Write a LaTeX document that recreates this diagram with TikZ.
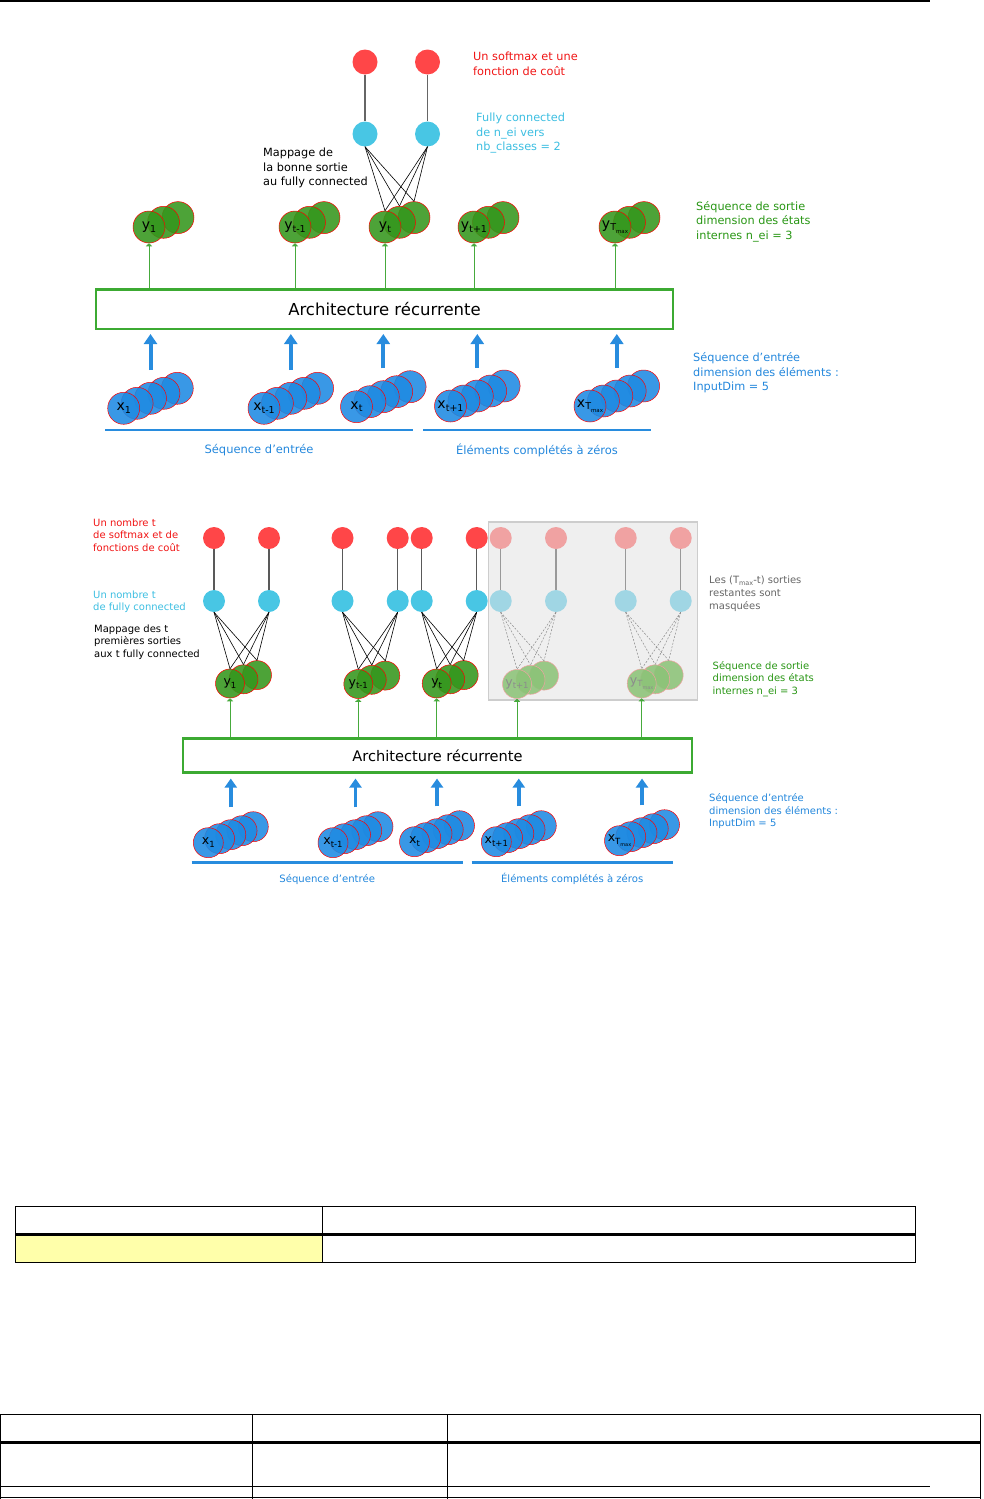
\documentclass[tikz,border=0pt]{standalone}
\usepackage{fontspec}
\setmainfont{DejaVu Sans}
\usetikzlibrary{arrows.meta}

\definecolor{redC}{RGB}{255,70,72}
\definecolor{cyanC}{RGB}{72,198,228}
\definecolor{redF}{RGB}{240,162,162}
\definecolor{cyanF}{RGB}{160,214,228}
\definecolor{greenFill}{RGB}{52,150,28}
\definecolor{greenFade}{RGB}{140,195,120}
\definecolor{blueFill}{RGB}{30,138,226}
\definecolor{greenBox}{RGB}{60,170,50}
\definecolor{greenArr}{RGB}{70,170,60}
\definecolor{blueArr}{RGB}{40,140,222}
\definecolor{greenTxt}{RGB}{40,150,20}
\definecolor{blueTxt}{RGB}{35,135,220}
\definecolor{cyanTxt}{RGB}{60,190,225}
\definecolor{redTxt}{RGB}{240,20,20}
\definecolor{grayBox}{RGB}{239,239,239}
\definecolor{grayEdge}{RGB}{205,205,205}
\definecolor{yellowCell}{RGB}{255,255,170}

\newcommand{\lsub}[2][9]{\raisebox{-0.35ex}{\fontsize{#1}{#1}\selectfont #2}}
\newcommand{\TmaxA}{\lsub[9.5]{T\raisebox{-0.5ex}{\fontsize{5.5}{5.5}\selectfont max}}}
\newcommand{\TmaxB}{\lsub[8.5]{T\raisebox{-0.5ex}{\fontsize{5}{5}\selectfont max}}}
\newcommand{\apos}{\char39\relax}
\newcommand{\cstack}[8]{%
  \foreach \i in {#8,...,1}{\node[#5] (#1-\i) at ({#2+\i*#6},{#3-\i*#7}) {};}
  \node[#5, alias=#1-0] (#1) at (#2,#3) {#4};}

\begin{document}
\begin{tikzpicture}[x=1pt,y=-1pt,
 redc/.style={circle, fill=redC, minimum size=25pt, inner sep=0pt},
 cyanc/.style={circle, fill=cyanC, minimum size=25pt, inner sep=0pt},
 redcs/.style={circle, fill=redC, minimum size=22pt, inner sep=0pt},
 cyancs/.style={circle, fill=cyanC, minimum size=22pt, inner sep=0pt},
 redcf/.style={redcs, fill=redF},
 cyancf/.style={cyancs, fill=cyanF},
 gtop/.style={circle, draw=red, line width=0.5pt, fill=greenFill, fill opacity=0.88, text opacity=1, minimum size=32pt, inner sep=0pt, font=\fontsize{14}{14}\selectfont},
 btop/.style={gtop, fill=blueFill},
 gbot/.style={gtop, minimum size=29pt, font=\fontsize{12.5}{12.5}\selectfont},
 gfade/.style={gbot, fill=greenFade, draw=redF, text=black!45},
 bbot/.style={gbot, fill=blueFill, minimum size=30pt},
 vline/.style={draw=black!60, line width=1.8pt},
 vlineb/.style={draw=black!65, line width=1.2pt},
 vlinef/.style={draw=black!40, line width=1.2pt},
 fan/.style={draw=black, line width=0.6pt},
 fanf/.style={draw=black!45, line width=0.5pt, dash pattern=on 2pt off 1.5pt},
 archbox/.style={draw=greenBox, line width=2.5pt, inner sep=0pt},
 garrow/.style={draw=greenArr, line width=0.8pt, -{Triangle[length=3pt,width=6pt]}},
 barrow/.style={draw=blueArr, line width=4pt, -{Triangle[length=10pt,width=13pt]}},
 barrowb/.style={draw=blueArr, line width=3.5pt, -{Triangle[length=9pt,width=12pt]}},
 uline/.style={draw=blueArr, line width=2.5pt},
 ulabel/.style={text=blueTxt, yshift=-20pt, font=\fontsize{11.5}{11.5}\selectfont},
 ulabelb/.style={text=blueTxt, yshift=-16.5pt, font=\fontsize{10.1}{10.1}\selectfont},
 lbl/.style={align=left, anchor=north west, inner sep=0pt, font=\fontsize{11.3}{14.5}\selectfont},
 lblb/.style={align=left, anchor=north west, inner sep=0pt, font=\fontsize{10}{12.6}\selectfont},
 panel/.style={fill=grayBox, draw=grayEdge, line width=1.5pt, inner sep=0pt}
]
\useasboundingbox (0,0) rectangle (983,1499);

% page rules
\draw[line width=1.2pt] (0,1) -- (930,1);

% ================= TOP DIAGRAM =================
\node[redc] (r1) at (365,62) {};
\node[redc] (r2) at (427.5,62) {};
\node[cyanc] (c1) at (365,134) {};
\node[cyanc] (c2) at (427.5,134) {};
\draw[vline] (r1) -- (c1);
\draw[vline] (r2) -- (c2);

\cstack{y1}{149}{227}{y\lsub[9.5]{1}}{gtop}{14.5}{4.7}{2}
\cstack{ytm1}{295}{227}{y\lsub[9.5]{t-1}}{gtop}{14.5}{4.7}{2}
\cstack{yt}{385}{227}{y\lsub[9.5]{t}}{gtop}{14.5}{4.7}{2}
\cstack{ytp1}{474}{227}{y\lsub[9.5]{t+1}}{gtop}{14.5}{4.7}{2}
\cstack{yT}{615}{227}{y\TmaxA}{gtop}{14.5}{4.7}{2}

\foreach \c in {c1,c2}{\foreach \k in {0,1,2}{\draw[fan] (\c.south) -- (yt-\k.north);}}

\node[archbox, minimum width=577pt, minimum height=39.5pt, font=\fontsize{16.5}{16.5}\selectfont] (arch1) at (384.5,309) {Architecture récurrente};

\foreach \n in {y1,ytm1,yt,ytp1,yT}{\draw[garrow] (arch1.north -| \n) -- (\n.south);}

\cstack{x1}{123.7}{408.3}{x\lsub[9.5]{1}}{btop}{13.4}{5}{4}
\cstack{xtm1}{264}{408.3}{x\lsub[9.5]{t-1}}{btop}{13.4}{5}{4}
\cstack{xt}{356.5}{406.7}{x\lsub[9.5]{t}}{btop}{13.4}{5}{4}
\cstack{xtp1}{450.5}{406}{x\lsub[9.5]{t+1}}{btop}{13.4}{5}{4}
\cstack{xT}{590}{406}{x\TmaxA}{btop}{13.4}{5}{4}

\foreach \n in {x1,xtm1,xt,xtp1,xT}{\draw[barrow, shorten >=4pt] ([yshift=12pt]\n-2.north) -- (arch1.south -| \n-2);}

\coordinate (u1a) at (105,430); \coordinate (u1b) at (413,430);
\coordinate (u2a) at (423,430); \coordinate (u2b) at (651,430);
\draw[uline] (u1a) -- node[ulabel] {Séquence d\apos entrée} (u1b);
\draw[uline] (u2a) -- node[ulabel] {Éléments complétés à zéros} (u2b);

\node[lbl, text=redTxt] (t1) at (473,52) {Un softmax et une\\fonction de coût};
\node[lbl, text=cyanTxt] (t2) at (476,113) {Fully connected\\de n\_ei vers\\nb\_classes = 2};
\node[lbl] (t3) at (263,148) {Mappage de\\la bonne sortie\\au fully connected};
\node[lbl, text=greenTxt] (t4) at (696,201) {Séquence de sortie\\dimension des états\\internes n\_ei = 3};
\node[lbl, text=blueTxt] (t5) at (693,352.5) {Séquence d\apos entrée\\dimension des éléments :\\InputDim = 5};

% ================= BOTTOM DIAGRAM =================
\node[panel, minimum width=209pt, minimum height=178pt] (mask) at (592.8,610.9) {};

\node[redcs] (rb1) at (214,538) {};
\node[redcs] (rb2) at (269,538) {};
\node[redcs] (rb3) at (342.5,538) {};
\node[redcs] (rb4) at (397.7,538) {};
\node[redcs] (rb5) at (421.7,538) {};
\node[redcs] (rb6) at (476.7,538) {};
\node[redcf] (rf1) at (500.7,538) {};
\node[redcf] (rf2) at (556,538) {};
\node[redcf] (rf3) at (625.7,538) {};
\node[redcf] (rf4) at (680.7,538) {};

\node[cyancs] (cb1) at (214,601) {};
\node[cyancs] (cb2) at (269,601) {};
\node[cyancs] (cb3) at (342.5,601) {};
\node[cyancs] (cb4) at (397.7,601) {};
\node[cyancs] (cb5) at (421.7,601) {};
\node[cyancs] (cb6) at (476.7,601) {};
\node[cyancf] (cf1) at (500.7,601) {};
\node[cyancf] (cf2) at (556,601) {};
\node[cyancf] (cf3) at (625.7,601) {};
\node[cyancf] (cf4) at (680.7,601) {};

\foreach \k in {1,...,6}{\draw[vlineb] (rb\k) -- (cb\k);}
\foreach \k in {1,...,4}{\draw[vlinef] (rf\k) -- (cf\k);}

\cstack{yb1}{230}{683.5}{y\lsub[8.5]{1}}{gbot}{13.5}{4.2}{2}
\cstack{ybtm1}{358.3}{684}{y\lsub[8.5]{t-1}}{gbot}{13.5}{4.2}{2}
\cstack{ybt}{436.7}{683.5}{y\lsub[8.5]{t}}{gbot}{13.5}{4.2}{2}
\cstack{ybtp1}{517}{684}{y\lsub[8.5]{t+1}}{gfade}{13.5}{4.2}{2}
\cstack{ybT}{641.7}{683.5}{y\TmaxB}{gfade}{13.5}{4.2}{2}

\foreach \c/\s in {cb1/yb1, cb2/yb1, cb3/ybtm1, cb4/ybtm1, cb5/ybt, cb6/ybt}{\foreach \k in {0,1,2}{\draw[fan] (\c.south) -- (\s-\k.north);}}
\foreach \c/\s in {cf1/ybtp1, cf2/ybtp1, cf3/ybT, cf4/ybT}{\foreach \k in {0,1,2}{\draw[fanf] (\c.south) -- (\s-\k.north);}}

\node[archbox, minimum width=509pt, minimum height=34pt, font=\fontsize{14.6}{14.6}\selectfont] (arch2) at (437.5,755.3) {Architecture récurrente};

\foreach \n in {yb1,ybtm1,ybt,ybtp1,ybT}{\draw[garrow] (arch2.north -| \n) -- (\n.south);}

\cstack{xb1}{208.3}{842.7}{x\lsub[8.5]{1}}{bbot}{11.25}{4}{4}
\cstack{xbtm1}{333}{842.7}{x\lsub[8.5]{t-1}}{bbot}{11.25}{4}{4}
\cstack{xbt}{414.5}{841.7}{x\lsub[8.5]{t}}{bbot}{11.25}{4}{4}
\cstack{xbtp1}{496.3}{841.7}{x\lsub[8.5]{t+1}}{bbot}{11.25}{4}{4}
\cstack{xbT}{619.5}{840.7}{x\TmaxB}{bbot}{11.25}{4}{4}

\foreach \n in {xb1,xbtm1,xbt,xbtp1,xbT}{\draw[barrowb, shorten >=5pt] ([yshift=12pt]\n-2.north) -- (arch2.south -| \n-2);}

\coordinate (v1a) at (191.7,862.7); \coordinate (v1b) at (462.7,862.7);
\coordinate (v2a) at (471.7,862.7); \coordinate (v2b) at (672.7,862.7);
\draw[uline] (v1a) -- node[ulabelb] {Séquence d\apos entrée} (v1b);
\draw[uline] (v2a) -- node[ulabelb] {Éléments complétés à zéros} (v2b);

\node[lblb, text=redTxt] (s1) at (93,518.5) {Un nombre t\\de softmax et de\\fonctions de coût};
\node[lblb, text=cyanTxt] (s2) at (93,590.2) {Un nombre t\\de fully connected};
\node[lblb] (s3) at (94,624.5) {Mappage des t\\premières sorties\\aux t fully connected};
\node[lblb, text=black!60] (s4) at (709,576) {Les (T\lsub[6.5]{max}-t) sorties\\restantes sont\\masquées};
\node[lblb, text=greenTxt] (s5) at (712.5,661) {Séquence de sortie\\dimension des états\\internes n\_ei = 3};
\node[lblb, text=blueTxt] (s6) at (709,793.5) {Séquence d\apos entrée\\dimension des éléments :\\InputDim = 5};

% ================= TABLES =================
\fill[yellowCell] (15.7,1235.5) rectangle (322.9,1262.7);
\draw[line width=1pt] (15.7,1206) rectangle (915.4,1262.7);
\draw[line width=1pt] (322.9,1206) -- (322.9,1262.7);
\draw[line width=2.5pt] (15.7,1234.5) -- (915.4,1234.5);

\draw[line width=1pt] (0.5,1414.3) -- (980.5,1414.3);
\draw[line width=2.5pt] (0,1442.5) -- (981,1442.5);
\draw[line width=1pt] (0,1497.8) -- (981,1497.8);
\draw[line width=1pt] (0.5,1414.3) -- (0.5,1499);
\draw[line width=1pt] (252.7,1414.3) -- (252.7,1499);
\draw[line width=1pt] (447,1414.3) -- (447,1499);
\draw[line width=1pt] (980.5,1414.3) -- (980.5,1499);
\draw[line width=1.2pt] (0,1486.7) -- (930,1486.7);
\end{tikzpicture}
\end{document}
